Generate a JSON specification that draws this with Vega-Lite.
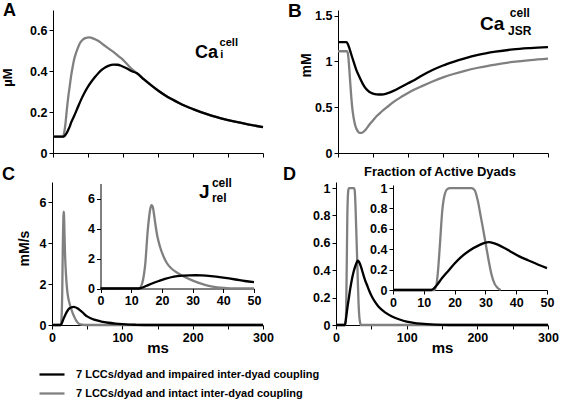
{
  "$schema": "https://vega.github.io/schema/vega-lite/v6.json",
  "width": 562,
  "height": 405,
  "autosize": "none",
  "padding": 0,
  "background": "white",
  "config": {
    "font": "Liberation Sans",
    "view": {"stroke": null},
    "axis": {
      "grid": false,
      "domainColor": "black",
      "tickColor": "black",
      "labelColor": "black",
      "titleColor": "black",
      "labelFont": "Liberation Sans",
      "labelFontSize": 12.5,
      "labelFontWeight": "bold",
      "titleFont": "Liberation Sans",
      "titleFontSize": 14,
      "titleFontWeight": "bold",
      "tickSize": 4,
      "labelPadding": 2,
      "labelFlush": false,
      "labelOverlap": false
    },
    "line": {"strokeWidth": 2.3, "interpolate": "monotone"},
    "text": {"font": "Liberation Sans", "fontWeight": "bold", "align": "left", "baseline": "alphabetic", "color": "black"}
  },
  "datasets": {
    "A": [
      {"t":0,"v":0.08,"s":"intact"},{"t":10,"v":0.08,"s":"intact"},{"t":14,"v":0.08,"s":"intact"},{"t":16,"v":0.1,"s":"intact"},{"t":18,"v":0.15,"s":"intact"},{"t":20,"v":0.22,"s":"intact"},{"t":22,"v":0.28,"s":"intact"},{"t":24,"v":0.33,"s":"intact"},{"t":26,"v":0.38,"s":"intact"},{"t":28,"v":0.42,"s":"intact"},{"t":30,"v":0.455,"s":"intact"},{"t":32,"v":0.48,"s":"intact"},{"t":35,"v":0.51,"s":"intact"},{"t":38,"v":0.535,"s":"intact"},{"t":42,"v":0.553,"s":"intact"},{"t":46,"v":0.562,"s":"intact"},{"t":52,"v":0.566,"s":"intact"},{"t":58,"v":0.56,"s":"intact"},{"t":65,"v":0.548,"s":"intact"},{"t":72,"v":0.53,"s":"intact"},{"t":80,"v":0.51,"s":"intact"},{"t":88,"v":0.49,"s":"intact"},{"t":95,"v":0.47,"s":"intact"},{"t":100,"v":0.456,"s":"intact"},{"t":105,"v":0.438,"s":"intact"},{"t":110,"v":0.42,"s":"intact"},{"t":115,"v":0.404,"s":"intact"},{"t":120,"v":0.39,"s":"intact"},{"t":130,"v":0.36,"s":"intact"},{"t":140,"v":0.332,"s":"intact"},{"t":150,"v":0.306,"s":"intact"},{"t":160,"v":0.283,"s":"intact"},{"t":170,"v":0.263,"s":"intact"},{"t":180,"v":0.245,"s":"intact"},{"t":190,"v":0.229,"s":"intact"},{"t":200,"v":0.215,"s":"intact"},{"t":220,"v":0.19,"s":"intact"},{"t":240,"v":0.17,"s":"intact"},{"t":260,"v":0.153,"s":"intact"},{"t":280,"v":0.139,"s":"intact"},{"t":300,"v":0.127,"s":"intact"},
      {"t":0,"v":0.08,"s":"impaired"},{"t":14,"v":0.08,"s":"impaired"},{"t":16,"v":0.082,"s":"impaired"},{"t":18,"v":0.09,"s":"impaired"},{"t":20,"v":0.1,"s":"impaired"},{"t":22,"v":0.115,"s":"impaired"},{"t":24,"v":0.13,"s":"impaired"},{"t":26,"v":0.15,"s":"impaired"},{"t":28,"v":0.165,"s":"impaired"},{"t":30,"v":0.18,"s":"impaired"},{"t":35,"v":0.22,"s":"impaired"},{"t":40,"v":0.26,"s":"impaired"},{"t":45,"v":0.295,"s":"impaired"},{"t":50,"v":0.325,"s":"impaired"},{"t":55,"v":0.35,"s":"impaired"},{"t":60,"v":0.372,"s":"impaired"},{"t":65,"v":0.392,"s":"impaired"},{"t":70,"v":0.408,"s":"impaired"},{"t":75,"v":0.42,"s":"impaired"},{"t":80,"v":0.428,"s":"impaired"},{"t":86,"v":0.433,"s":"impaired"},{"t":92,"v":0.432,"s":"impaired"},{"t":98,"v":0.426,"s":"impaired"},{"t":105,"v":0.415,"s":"impaired"},{"t":112,"v":0.401,"s":"impaired"},{"t":120,"v":0.39,"s":"impaired"},{"t":130,"v":0.36,"s":"impaired"},{"t":140,"v":0.332,"s":"impaired"},{"t":150,"v":0.306,"s":"impaired"},{"t":160,"v":0.283,"s":"impaired"},{"t":170,"v":0.263,"s":"impaired"},{"t":180,"v":0.245,"s":"impaired"},{"t":190,"v":0.229,"s":"impaired"},{"t":200,"v":0.215,"s":"impaired"},{"t":220,"v":0.19,"s":"impaired"},{"t":240,"v":0.17,"s":"impaired"},{"t":260,"v":0.153,"s":"impaired"},{"t":280,"v":0.139,"s":"impaired"},{"t":300,"v":0.127,"s":"impaired"}
    ],
    "B": [
      {"t":0,"v":1.11,"s":"intact"},{"t":13,"v":1.11,"s":"intact"},{"t":14,"v":1.09,"s":"intact"},{"t":15,"v":1.03,"s":"intact"},{"t":16,"v":0.93,"s":"intact"},{"t":17,"v":0.82,"s":"intact"},{"t":18,"v":0.71,"s":"intact"},{"t":19,"v":0.61,"s":"intact"},{"t":20,"v":0.52,"s":"intact"},{"t":22,"v":0.4,"s":"intact"},{"t":24,"v":0.32,"s":"intact"},{"t":26,"v":0.27,"s":"intact"},{"t":28,"v":0.24,"s":"intact"},{"t":31,"v":0.22,"s":"intact"},{"t":34,"v":0.22,"s":"intact"},{"t":37,"v":0.235,"s":"intact"},{"t":40,"v":0.26,"s":"intact"},{"t":45,"v":0.31,"s":"intact"},{"t":50,"v":0.355,"s":"intact"},{"t":55,"v":0.4,"s":"intact"},{"t":62,"v":0.45,"s":"intact"},{"t":70,"v":0.5,"s":"intact"},{"t":80,"v":0.56,"s":"intact"},{"t":90,"v":0.61,"s":"intact"},{"t":100,"v":0.655,"s":"intact"},{"t":110,"v":0.695,"s":"intact"},{"t":120,"v":0.73,"s":"intact"},{"t":135,"v":0.78,"s":"intact"},{"t":150,"v":0.825,"s":"intact"},{"t":165,"v":0.862,"s":"intact"},{"t":180,"v":0.894,"s":"intact"},{"t":200,"v":0.93,"s":"intact"},{"t":225,"v":0.965,"s":"intact"},{"t":250,"v":0.993,"s":"intact"},{"t":275,"v":1.014,"s":"intact"},{"t":300,"v":1.03,"s":"intact"},
      {"t":0,"v":1.21,"s":"impaired"},{"t":12,"v":1.21,"s":"impaired"},{"t":14,"v":1.19,"s":"impaired"},{"t":16,"v":1.15,"s":"impaired"},{"t":18,"v":1.1,"s":"impaired"},{"t":20,"v":1.05,"s":"impaired"},{"t":23,"v":0.98,"s":"impaired"},{"t":26,"v":0.91,"s":"impaired"},{"t":30,"v":0.84,"s":"impaired"},{"t":35,"v":0.76,"s":"impaired"},{"t":40,"v":0.7,"s":"impaired"},{"t":45,"v":0.665,"s":"impaired"},{"t":50,"v":0.648,"s":"impaired"},{"t":55,"v":0.64,"s":"impaired"},{"t":62,"v":0.638,"s":"impaired"},{"t":70,"v":0.65,"s":"impaired"},{"t":80,"v":0.68,"s":"impaired"},{"t":90,"v":0.72,"s":"impaired"},{"t":100,"v":0.76,"s":"impaired"},{"t":110,"v":0.8,"s":"impaired"},{"t":120,"v":0.845,"s":"impaired"},{"t":135,"v":0.905,"s":"impaired"},{"t":150,"v":0.955,"s":"impaired"},{"t":165,"v":0.995,"s":"impaired"},{"t":180,"v":1.03,"s":"impaired"},{"t":200,"v":1.07,"s":"impaired"},{"t":225,"v":1.105,"s":"impaired"},{"t":250,"v":1.13,"s":"impaired"},{"t":275,"v":1.145,"s":"impaired"},{"t":300,"v":1.156,"s":"impaired"}
    ],
    "C": [
      {"t":0,"v":0,"s":"intact"},{"t":12.5,"v":0,"s":"intact"},{"t":13.5,"v":0.3,"s":"intact"},{"t":14.2,"v":1.0,"s":"intact"},{"t":14.6,"v":1.67,"s":"intact"},{"t":15.0,"v":2.8,"s":"intact"},{"t":15.4,"v":3.9,"s":"intact"},{"t":15.8,"v":4.7,"s":"intact"},{"t":16.2,"v":5.3,"s":"intact"},{"t":16.6,"v":5.55,"s":"intact"},{"t":17.0,"v":5.45,"s":"intact"},{"t":17.4,"v":5.0,"s":"intact"},{"t":17.8,"v":4.4,"s":"intact"},{"t":18.5,"v":3.5,"s":"intact"},{"t":19.4,"v":2.77,"s":"intact"},{"t":20.5,"v":2.15,"s":"intact"},{"t":21.6,"v":1.7,"s":"intact"},{"t":23,"v":1.35,"s":"intact"},{"t":25,"v":1.05,"s":"intact"},{"t":27,"v":0.82,"s":"intact"},{"t":29.7,"v":0.56,"s":"intact"},{"t":32,"v":0.38,"s":"intact"},{"t":34,"v":0.24,"s":"intact"},{"t":36,"v":0.14,"s":"intact"},{"t":38,"v":0.07,"s":"intact"},{"t":41,"v":0.03,"s":"intact"},{"t":45,"v":0.01,"s":"intact"},{"t":50,"v":0,"s":"intact"},{"t":300,"v":0,"s":"intact"},
      {"t":0,"v":0,"s":"impaired"},{"t":12.5,"v":0,"s":"impaired"},{"t":13.5,"v":0.05,"s":"impaired"},{"t":15,"v":0.18,"s":"impaired"},{"t":17,"v":0.35,"s":"impaired"},{"t":19,"v":0.5,"s":"impaired"},{"t":21,"v":0.64,"s":"impaired"},{"t":23,"v":0.75,"s":"impaired"},{"t":25,"v":0.82,"s":"impaired"},{"t":27,"v":0.86,"s":"impaired"},{"t":29,"v":0.88,"s":"impaired"},{"t":31,"v":0.885,"s":"impaired"},{"t":33,"v":0.87,"s":"impaired"},{"t":36,"v":0.82,"s":"impaired"},{"t":40,"v":0.72,"s":"impaired"},{"t":44,"v":0.6,"s":"impaired"},{"t":47,"v":0.5,"s":"impaired"},{"t":50,"v":0.42,"s":"impaired"},{"t":55,"v":0.33,"s":"impaired"},{"t":60,"v":0.26,"s":"impaired"},{"t":70,"v":0.17,"s":"impaired"},{"t":80,"v":0.11,"s":"impaired"},{"t":90,"v":0.07,"s":"impaired"},{"t":100,"v":0.04,"s":"impaired"},{"t":110,"v":0.02,"s":"impaired"},{"t":120,"v":0.01,"s":"impaired"},{"t":140,"v":0,"s":"impaired"},{"t":300,"v":0,"s":"impaired"}
    ],
    "D": [
      {"t":0,"v":0,"s":"intact"},{"t":13.5,"v":0,"s":"intact"},{"t":14.5,"v":0.15,"s":"intact"},{"t":15.2,"v":0.43,"s":"intact"},{"t":16,"v":0.78,"s":"intact"},{"t":16.8,"v":0.94,"s":"intact"},{"t":17.6,"v":0.99,"s":"intact"},{"t":18.5,"v":1.0,"s":"intact"},{"t":25.5,"v":1.0,"s":"intact"},{"t":26.5,"v":0.98,"s":"intact"},{"t":27.5,"v":0.88,"s":"intact"},{"t":28.5,"v":0.72,"s":"intact"},{"t":29.3,"v":0.59,"s":"intact"},{"t":30,"v":0.47,"s":"intact"},{"t":31,"v":0.3,"s":"intact"},{"t":32,"v":0.15,"s":"intact"},{"t":33,"v":0.06,"s":"intact"},{"t":34,"v":0.02,"s":"intact"},{"t":35,"v":0,"s":"intact"},{"t":300,"v":0,"s":"intact"},
      {"t":0,"v":0,"s":"impaired"},{"t":12.5,"v":0,"s":"impaired"},{"t":14,"v":0.04,"s":"impaired"},{"t":16,"v":0.12,"s":"impaired"},{"t":18,"v":0.19,"s":"impaired"},{"t":20,"v":0.26,"s":"impaired"},{"t":22,"v":0.32,"s":"impaired"},{"t":25,"v":0.39,"s":"impaired"},{"t":28,"v":0.44,"s":"impaired"},{"t":30,"v":0.465,"s":"impaired"},{"t":31,"v":0.47,"s":"impaired"},{"t":32,"v":0.465,"s":"impaired"},{"t":34,"v":0.445,"s":"impaired"},{"t":36,"v":0.415,"s":"impaired"},{"t":38,"v":0.38,"s":"impaired"},{"t":41,"v":0.33,"s":"impaired"},{"t":44,"v":0.29,"s":"impaired"},{"t":47,"v":0.25,"s":"impaired"},{"t":50,"v":0.215,"s":"impaired"},{"t":55,"v":0.17,"s":"impaired"},{"t":60,"v":0.135,"s":"impaired"},{"t":70,"v":0.09,"s":"impaired"},{"t":80,"v":0.06,"s":"impaired"},{"t":90,"v":0.04,"s":"impaired"},{"t":100,"v":0.025,"s":"impaired"},{"t":110,"v":0.016,"s":"impaired"},{"t":120,"v":0.01,"s":"impaired"},{"t":140,"v":0.003,"s":"impaired"},{"t":160,"v":0,"s":"impaired"},{"t":300,"v":0,"s":"impaired"}
    ],
    "annA_big": [{"t":-71.4,"v":0.6706,"label":"A"},{"t":202.9,"v":0.4636,"label":"Ca"}],
    "annA_small": [{"t":238,"v":0.5238,"label":"cell"},{"t":239,"v":0.4636,"label":"i"}],
    "annB_big": [{"t":-71.4,"v":1.4836,"label":"B"},{"t":202.9,"v":1.3418,"label":"Ca"}],
    "annB_small": [{"t":245.5,"v":1.4836,"label":"cell"},{"t":243,"v":1.2873,"label":"JSR"}],
    "annC_big": [{"t":-71.1,"v":7.097,"label":"C"}],
    "annCi_big": [{"t":32.08,"v":6.01,"label":"J"}],
    "annCi_small": [{"t":36.3,"v":6.79,"label":"cell"},{"t":36.3,"v":5.79,"label":"rel"}],
    "annD_big": [{"t":-75,"v":1.0586,"label":"D"}],
    "annD_title": [{"t":147.2,"v":1.09,"label":"Fraction of Active Dyads"}]
  },
  "layer": [
    {
      "encoding": {
        "x": {"field": "t", "type": "quantitative", "scale": {"domain": [0, 300], "range": [53, 263], "nice": false, "zero": false},
              "axis": {"orient": "bottom", "offset": -252, "values": [0,50,100,150,200,250,300], "labels": false, "title": null}},
        "y": {"field": "v", "type": "quantitative", "scale": {"domain": [0, 0.7], "range": [153, 10], "nice": false},
              "axis": {"orient": "left", "offset": -53, "values": [0,0.2,0.4,0.6], "format": "~g", "title": "µM", "titleFontSize": 13, "titlePadding": 15, "titleY": 77}}
      },
      "layer": [
        {"data": {"name": "A"}, "mark": {"type": "line"},
         "encoding": {"color": {"field": "s", "type": "nominal", "scale": {"domain": ["impaired", "intact"], "range": ["#000000", "#808080"]},
           "legend": {"orient": "none", "legendX": 38, "legendY": 360.5, "title": null, "padding": 0, "symbolType": "stroke", "symbolSize": 625, "symbolStrokeWidth": 2.3, "labelFontSize": 11, "labelFontWeight": "bold", "labelColor": "black", "labelFont": "Liberation Sans", "labelOffset": 10, "labelLimit": 0, "rowPadding": -1,
             "labelExpr": "datum.label == 'impaired' ? '7 LCCs/dyad and impaired inter-dyad coupling' : '7 LCCs/dyad and intact inter-dyad coupling'"}}}},
        {"data": {"name": "annA_big"}, "mark": {"type": "text", "fontSize": 18}, "encoding": {"text": {"field": "label"}}},
        {"data": {"name": "annA_small"}, "mark": {"type": "text", "fontSize": 11}, "encoding": {"text": {"field": "label"}}}
      ]
    },
    {
      "encoding": {
        "x": {"field": "t", "type": "quantitative", "scale": {"domain": [0, 300], "range": [338, 548], "nice": false, "zero": false},
              "axis": {"orient": "bottom", "offset": -252, "values": [0,50,100,150,200,250,300], "labels": false, "title": null}},
        "y": {"field": "v", "type": "quantitative", "scale": {"domain": [0, 1.56], "range": [153, 10], "nice": false},
              "axis": {"orient": "left", "offset": -338, "values": [0,0.5,1,1.5], "format": "~g", "title": "mM", "titlePadding": 1, "titleY": 65}}
      },
      "layer": [
        {"data": {"name": "B"}, "mark": {"type": "line"},
         "encoding": {"color": {"field": "s", "type": "nominal", "scale": {"domain": ["impaired", "intact"], "range": ["#000000", "#808080"]}}}},
        {"data": {"name": "annB_big"}, "mark": {"type": "text", "fontSize": 19}, "encoding": {"text": {"field": "label"}}},
        {"data": {"name": "annB_small"}, "mark": {"type": "text", "fontSize": 12}, "encoding": {"text": {"field": "label"}}}
      ]
    },
    {
      "encoding": {
        "x": {"field": "t", "type": "quantitative", "scale": {"domain": [0, 300], "range": [52, 263], "nice": false, "zero": false},
              "axis": {"orient": "bottom", "offset": -80, "values": [0,50,100,150,200,250,300], "labelExpr": "datum.value % 100 === 0 ? datum.label : ''", "title": "ms", "titleFontSize": 15, "titlePadding": -3}},
        "y": {"field": "v", "type": "quantitative", "scale": {"domain": [0, 7], "range": [325, 182], "nice": false},
              "axis": {"orient": "left", "offset": -52, "values": [0,2,4,6], "title": "mM/s", "titlePadding": 8, "titleY": 248}}
      },
      "layer": [
        {"data": {"name": "C"}, "mark": {"type": "line"},
         "encoding": {"color": {"field": "s", "type": "nominal", "scale": {"domain": ["impaired", "intact"], "range": ["#000000", "#808080"]}}}},
        {"data": {"name": "annC_big"}, "mark": {"type": "text", "fontSize": 18}, "encoding": {"text": {"field": "label"}}}
      ]
    },
    {
      "encoding": {
        "x": {"field": "t", "type": "quantitative", "scale": {"domain": [0, 50], "range": [100.5, 254], "nice": false, "zero": false},
              "axis": {"orient": "bottom", "offset": -116.5, "values": [0,10,20,30,40,50], "title": null}},
        "y": {"field": "v", "type": "quantitative", "scale": {"domain": [0, 7], "range": [288.5, 183.5], "nice": false},
              "axis": {"orient": "left", "offset": -100.5, "values": [0,2,4,6], "title": null}}
      },
      "layer": [
        {"data": {"name": "C"}, "transform": [{"filter": "datum.t <= 50"}], "mark": {"type": "line"},
         "encoding": {"color": {"field": "s", "type": "nominal", "scale": {"domain": ["impaired", "intact"], "range": ["#000000", "#808080"]}}}},
        {"data": {"name": "annCi_big"}, "mark": {"type": "text", "fontSize": 19}, "encoding": {"text": {"field": "label"}}},
        {"data": {"name": "annCi_small"}, "mark": {"type": "text", "fontSize": 12}, "encoding": {"text": {"field": "label"}}}
      ]
    },
    {
      "encoding": {
        "x": {"field": "t", "type": "quantitative", "scale": {"domain": [0, 300], "range": [336, 548], "nice": false, "zero": false},
              "axis": {"orient": "bottom", "offset": -80, "values": [0,50,100,150,200,250,300], "labelExpr": "datum.value % 100 === 0 ? datum.label : ''", "title": "ms", "titleFontSize": 15, "titlePadding": -3}},
        "y": {"field": "v", "type": "quantitative", "scale": {"domain": [0, 1.044], "range": [325, 182], "nice": false},
              "axis": {"orient": "left", "offset": -336, "values": [0,0.2,0.4,0.6,0.8,1], "format": "~g", "title": null}}
      },
      "layer": [
        {"data": {"name": "D"}, "mark": {"type": "line"},
         "encoding": {"color": {"field": "s", "type": "nominal", "scale": {"domain": ["impaired", "intact"], "range": ["#000000", "#808080"]}}}},
        {"data": {"name": "annD_big"}, "mark": {"type": "text", "fontSize": 18}, "encoding": {"text": {"field": "label"}}},
        {"data": {"name": "annD_title"}, "mark": {"type": "text", "fontSize": 13, "align": "center"}, "encoding": {"text": {"field": "label"}}}
      ]
    },
    {
      "encoding": {
        "x": {"field": "t", "type": "quantitative", "scale": {"domain": [0, 50], "range": [393, 547], "nice": false, "zero": false},
              "axis": {"orient": "bottom", "offset": -115, "values": [0,10,20,30,40,50], "title": null}},
        "y": {"field": "v", "type": "quantitative", "scale": {"domain": [0, 1.03], "range": [290, 185], "nice": false},
              "axis": {"orient": "left", "offset": -393, "values": [0,0.2,0.4,0.6,0.8,1], "format": "~g", "title": null}}
      },
      "layer": [
        {"data": {"name": "D"}, "transform": [{"filter": "datum.t <= 50"}], "mark": {"type": "line"},
         "encoding": {"color": {"field": "s", "type": "nominal", "scale": {"domain": ["impaired", "intact"], "range": ["#000000", "#808080"]}}}}
      ]
    }
  ],
  "resolve": {
    "scale": {"x": "independent", "y": "independent"},
    "axis": {"x": "independent", "y": "independent"}
  }
}
